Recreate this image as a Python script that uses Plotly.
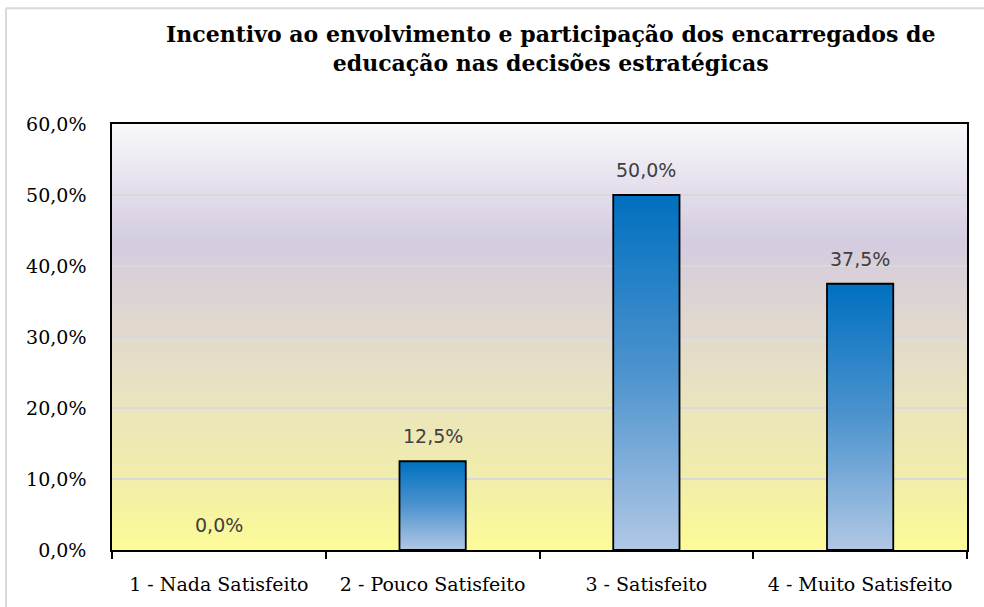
import plotly.graph_objects as go

categories = ["1 - Nada Satisfeito", "2 - Pouco Satisfeito", "3 - Satisfeito", "4 - Muito Satisfeito"]
values = [0.0, 12.5, 50.0, 37.5]
labels = ["0,0%", "12,5%", "50,0%", "37,5%"]
ytick_vals = [0, 10, 20, 30, 40, 50, 60]
ytick_text = ["0,0%", "10,0%", "20,0%", "30,0%", "40,0%", "50,0%", "60,0%"]
title = "<b>Incentivo ao envolvimento e participação dos encarregados de<br>educação nas decisões estratégicas</b>"

W, H = 984, 607
L, T = 112, 124
R = W - 967
B = H - 553
BAR_W = 0.31

# background gradient stops (fraction from bottom, colour)
bg_stops = [
    (0.00, (253, 251, 152)),
    (0.17, (241, 237, 170)),
    (0.33, (235, 229, 188)),
    (0.50, (226, 218, 204)),
    (0.62, (219, 210, 214)),
    (0.72, (212, 203, 224)),
    (0.85, (228, 223, 236)),
    (1.00, (249, 248, 251)),
]

def interp(f):
    for (f0, c0), (f1, c1) in zip(bg_stops[:-1], bg_stops[1:]):
        if f0 <= f <= f1:
            t = (f - f0) / (f1 - f0) if f1 > f0 else 0
            return "rgb(%d,%d,%d)" % tuple(round(a + (b - a) * t) for a, b in zip(c0, c1))
    return "rgb(%d,%d,%d)" % bg_stops[-1][1]

shapes = []
N = 140
for i in range(N):
    f0, f1 = i / N, (i + 1) / N
    shapes.append(dict(type="rect", xref="paper", yref="paper", x0=0, x1=1, y0=f0, y1=f1 + 0.002,
                       fillcolor=interp((f0 + f1) / 2), line=dict(width=0), layer="below"))

pw = W - L - R
ph = H - T - B

def px_x(x):  # window pixel -> paper x
    return (x - L) / pw

def px_y(y):  # window pixel -> paper y
    return (H - B - y) / ph

# outer chart border (light grey) - only top and left edges fall inside the view
shapes.append(dict(type="line", xref="paper", yref="paper",
                   x0=px_x(6), x1=px_x(990), y0=px_y(7.5), y1=px_y(7.5),
                   line=dict(color="#d9d9d9", width=2), layer="above"))
shapes.append(dict(type="line", xref="paper", yref="paper",
                   x0=px_x(6), x1=px_x(6), y0=px_y(7.5), y1=px_y(615),
                   line=dict(color="#d9d9d9", width=2), layer="above"))

fig = go.Figure()

bar_scale = [[0, "#b1c8e5"], [0.5, "#4d93ce"], [1, "#0070c0"]]
for i, v in enumerate(values):
    if v <= 0:
        continue
    xs = [i - BAR_W / 2, i - BAR_W / 2, i + BAR_W / 2, i + BAR_W / 2, i - BAR_W / 2]
    ys = [0, v, v, 0, 0]
    fig.add_trace(go.Scatter(
        x=xs, y=ys, mode="lines", fill="toself",
        fillgradient=dict(type="vertical", colorscale=bar_scale),
        line=dict(color="black", width=1.8),
        hoverinfo="skip", showlegend=False))

annotations = [dict(x=i, y=v, xref="x", yref="y", text=lab, showarrow=False, yshift=25,
                    font=dict(family="DejaVu Sans", size=19, color="#404040"))
               for i, (v, lab) in enumerate(zip(values, labels))]
annotations.append(dict(x=px_x(550), y=px_y(48), xref="paper", yref="paper",
                        text=title, showarrow=False, xanchor="center", yanchor="middle",
                        font=dict(family="DejaVu Serif", size=22, color="black")))

fig.update_layout(
    width=W, height=H,
    margin=dict(l=L, r=R, t=T, b=B),
    paper_bgcolor="white", plot_bgcolor="rgba(0,0,0,0)",
    shapes=shapes, annotations=annotations,
    showlegend=False,
    xaxis=dict(range=[-0.5, 3.5], tickmode="array", tickvals=list(range(len(categories))),
               ticktext=categories, ticks="", showgrid=False, zeroline=False,
               showline=True, linecolor="black", linewidth=2, mirror=True,
               ticklabelstandoff=16,
               tickfont=dict(family="DejaVu Serif", size=19, color="black"),
               minor=dict(tickmode="linear", tick0=0.5, dtick=1, ticks="outside", ticklen=7,
                          tickwidth=2, tickcolor="black", showgrid=False)),
    yaxis=dict(range=[0, 60], tickmode="array", tickvals=ytick_vals, ticktext=ytick_text,
               ticks="", showgrid=True, gridcolor="#d9d9d9", gridwidth=1.5, zeroline=False,
               showline=True, linecolor="black", linewidth=1.5, mirror=True,
               ticklabelstandoff=20,
               tickfont=dict(family="DejaVu Serif", size=19, color="black")),
)

fig.write_html("out.html", config={"displayModeBar": False},
               post_script="document.body.style.margin='0';document.body.style.overflow='hidden';")
